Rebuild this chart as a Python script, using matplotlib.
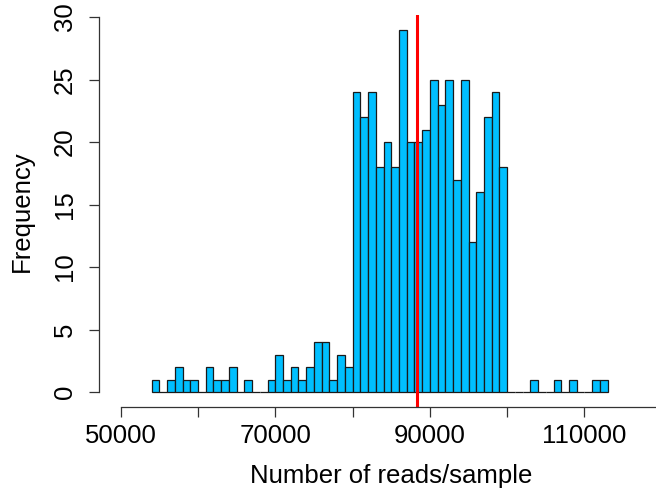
import matplotlib
matplotlib.use("Agg")
import matplotlib.pyplot as plt
import numpy as np

# histogram counts, 1000-read bins starting at 54000
bin_start = 54000
bin_width = 1000
counts = [1, 0, 1, 2, 1, 1, 0, 2, 1, 1,
          2, 0, 1, 0, 0, 1, 3, 1, 2, 1,
          2, 4, 4, 1, 3, 2, 24, 22, 24, 18,
          20, 18, 29, 20, 20, 21, 25, 23, 25, 17,
          25, 12, 16, 22, 24, 18, 0, 0, 0, 1,
          0, 0, 1, 0, 1, 0, 0, 1, 1]
mean_reads = 88300

x_ticks = list(range(50000, 120001, 10000))
x_labels = ["50000", "", "70000", "", "90000", "", "110000", ""]
y_ticks = [0, 5, 10, 15, 20, 25, 30]

plt.rcParams["font.family"] = ["Liberation Sans", "DejaVu Sans"]
fs = 18.5

W, H = 656, 495
fig = plt.figure(figsize=(W / 100, H / 100), dpi=100)
left, right, top, bottom = 98.7, 656, 15, 406.5
ax = fig.add_axes([left / W, (H - bottom) / H, (right - left) / W, (bottom - top) / H])

edges = bin_start + bin_width * np.arange(len(counts))
ax.bar(edges, counts, width=bin_width, align="edge",
       color="#00BFFF", edgecolor="#1a1a1a", linewidth=0.9)
ax.axvline(mean_reads, color="#FF0000", linewidth=2.2)

ax.set_xlim(47154, 119250)
ax.set_ylim(-1.16, 30.16)

for s in ["top", "right"]:
    ax.spines[s].set_visible(False)
ax.spines["left"].set_bounds(0, 30)
ax.spines["bottom"].set_bounds(50000, 120000)
for s in ["left", "bottom"]:
    ax.spines[s].set_linewidth(0.9)
    ax.spines[s].set_color("#333333")

ax.set_xticks(x_ticks)
ax.set_xticklabels(x_labels)
ax.set_xlim(47154, 119250)
ax.set_yticks(y_ticks)
ax.set_yticklabels([str(v) for v in y_ticks], rotation=90, va="center")
ax.tick_params(axis="both", direction="out", length=7.5, width=0.9,
               color="#333333", labelsize=fs)
ax.tick_params(axis="x", pad=5)
ax.tick_params(axis="y", pad=8)

fig.text(390.9 / W, 1 - 476 / H, "Number of reads/sample", fontsize=fs,
         ha="center", va="center")
fig.text(22 / W, 1 - 210.7 / H, "Frequency", fontsize=fs, rotation=90,
         ha="center", va="center")

fig.savefig("out.png", dpi=100)
